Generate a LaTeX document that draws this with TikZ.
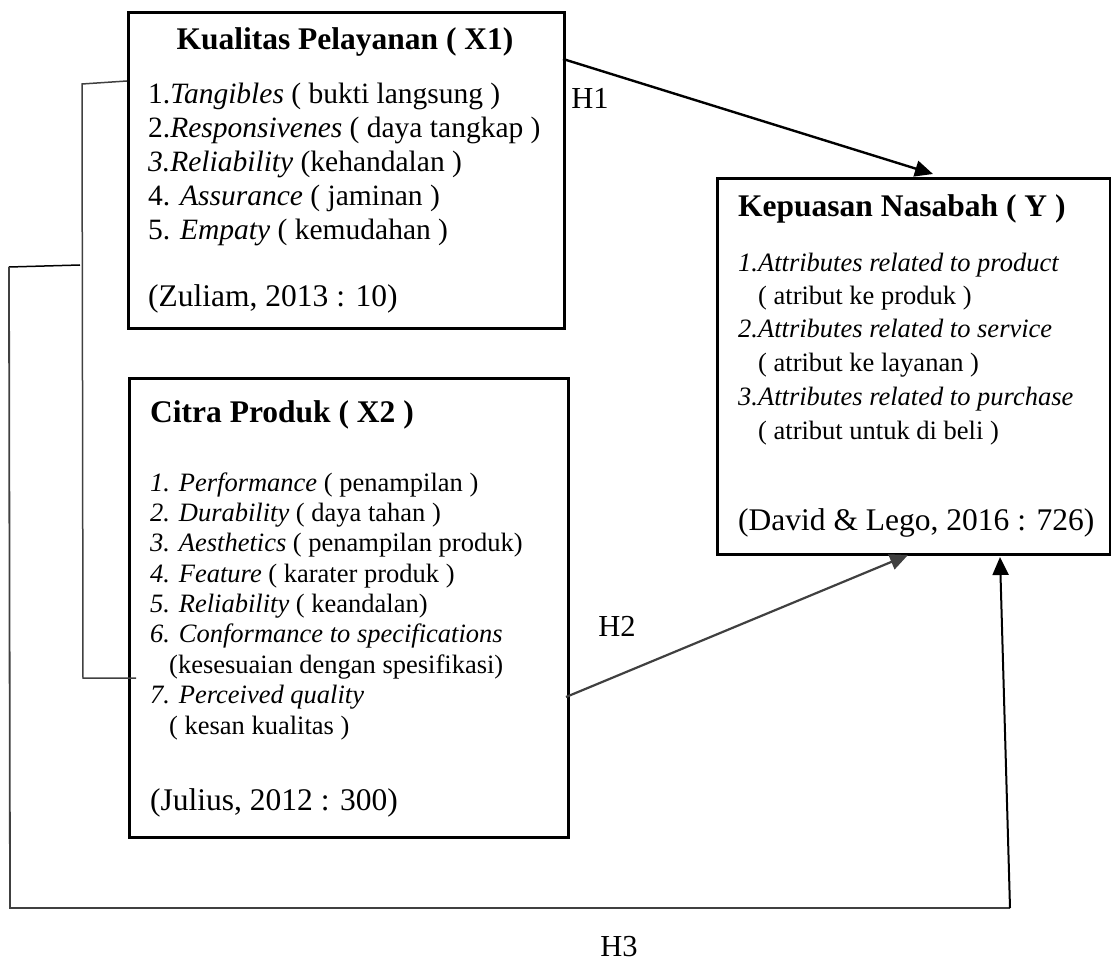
\documentclass[tikz,border=0pt]{standalone}
\usepackage{fontspec}
\setmainfont{Liberation Serif}
\usetikzlibrary{arrows.meta}
\definecolor{lgray}{HTML}{404040}
\tikzset{
  box/.style={draw, line width=2.6pt, inner sep=0pt, anchor=north west},
  ttl/.style={font=\fontsize{31.5}{36}\selectfont\bfseries, inner sep=0pt},
  itmA/.style={font=\fontsize{29.5}{34}\selectfont, anchor=base west, inner sep=0pt},
  itmB/.style={font=\fontsize{26.5}{30}\selectfont, anchor=base west, inner sep=0pt},
  cite/.style={font=\fontsize{31.5}{36}\selectfont, anchor=base west, inner sep=0pt},
  hlab/.style={font=\fontsize{30.5}{34}\selectfont, inner sep=0pt},
  arr/.style={line width=2.4pt, -{Triangle[length=18pt,width=16pt]}},
  brk/.style={line width=1.5pt, draw=lgray},
}
\begin{document}
\begin{tikzpicture}[x=1pt,y=-1pt]
\useasboundingbox (0,0) rectangle (1111,965);
% boxes
\node[box, minimum width=436pt, minimum height=316pt] (x1) at (127,11) {};
\node[box, minimum width=439pt, minimum height=459pt] (x2) at (128,377) {};
\node[box, minimum width=393pt, minimum height=376pt] (y) at (716,177) {};
% X1 text
\node[ttl, anchor=base] (x1t) at (345,50) {Kualitas Pelayanan ( X1)};
\node[itmA] (x1a) at (148,104) {1.\textit{Tangibles} ( bukti langsung )};
\node[itmA] (x1b) at (148,138) {2.\textit{Responsivenes} ( daya tangkap )};
\node[itmA] (x1c) at (148,172) {\textit{3.Reliability} (kehandalan )};
\node[itmA] (x1d) at (148,206) {4. \textit{Assurance} ( jaminan )};
\node[itmA] (x1e) at (148,240) {5. \textit{Empaty} ( kemudahan )};
\node[cite] (x1c2) at (148,307) {(Zuliam, 2013 : 10)};
% X2 text
\node[ttl, anchor=base west] (x2t) at (150,422) {Citra Produk ( X2 )};
\node[itmB] (x2a) at (150,491) {\textit{1. Performance} ( penampilan )};
\node[itmB] (x2b) at (150,521) {\textit{2. Durability} ( daya tahan )};
\node[itmB] (x2c) at (150,551) {\textit{3. Aesthetics} ( penampilan produk)};
\node[itmB] (x2d) at (150,582) {\textit{4. Feature} ( karater produk )};
\node[itmB] (x2e) at (150,612) {\textit{5. Reliability} ( keandalan)};
\node[itmB] (x2f) at (150,642) {\textit{6. Conformance to specifications}};
\node[itmB] (x2g) at (169,673) {(kesesuaian dengan spesifikasi)};
\node[itmB] (x2h) at (150,703) {\textit{7. Perceived quality}};
\node[itmB] (x2i) at (169,734) {( kesan kualitas )};
\node[cite] (x2c2) at (150,810) {(Julius, 2012 : 300)};
% Y text
\node[ttl, anchor=base west] (yt) at (738,217) {Kepuasan Nasabah ( Y )};
\node[itmB] (ya) at (738,272) {\textit{1.Attributes related to product}};
\node[itmB] (yb) at (758,305) {( atribut ke produk )};
\node[itmB] (yc) at (738,338) {\textit{2.Attributes related to service}};
\node[itmB] (yd) at (758,372) {( atribut ke layanan )};
\node[itmB] (ye) at (738,406) {\textit{3.Attributes related to purchase}};
\node[itmB] (yf) at (758,439) {( atribut untuk di beli )};
\node[cite] (yc2) at (738,530) {(David \& Lego, 2016 : 726)};
% hypothesis labels
\node[hlab] (h1) at (590,98) {H1};
\node[hlab] (h2) at (617,626) {H2};
\node[hlab] (h3) at (619,947) {H3};
% connector coordinates
\coordinate (h1s) at (563,59);
\coordinate (h1e) at (933,174);
\coordinate (h2s) at (566,697);
\coordinate (h2e) at (908,555);
\coordinate (b1) at (127,81);
\coordinate (b2) at (82,84);
\coordinate (b3) at (83,678);
\coordinate (b4) at (136,678);
\coordinate (o1) at (80,265);
\coordinate (o2) at (9,267);
\coordinate (o3) at (10,908);
\coordinate (o4) at (1010,908);
\coordinate (o5) at (1000,557);
% arrows
\draw[arr] (h1s) -- (h1e);
\draw[arr, draw=lgray, fill=lgray, line width=2.2pt] (h2s) -- (h2e);
\draw[brk] (b1) -- (b2) -- (b3) -- (b4);
\draw[brk, draw=black] (o1) -- (o2);
\draw[line width=1.8pt, draw=lgray] (o2) -- (o3) -- (o4);
\draw[arr, line width=2pt] (o4) -- (o5);
\end{tikzpicture}
\end{document}
